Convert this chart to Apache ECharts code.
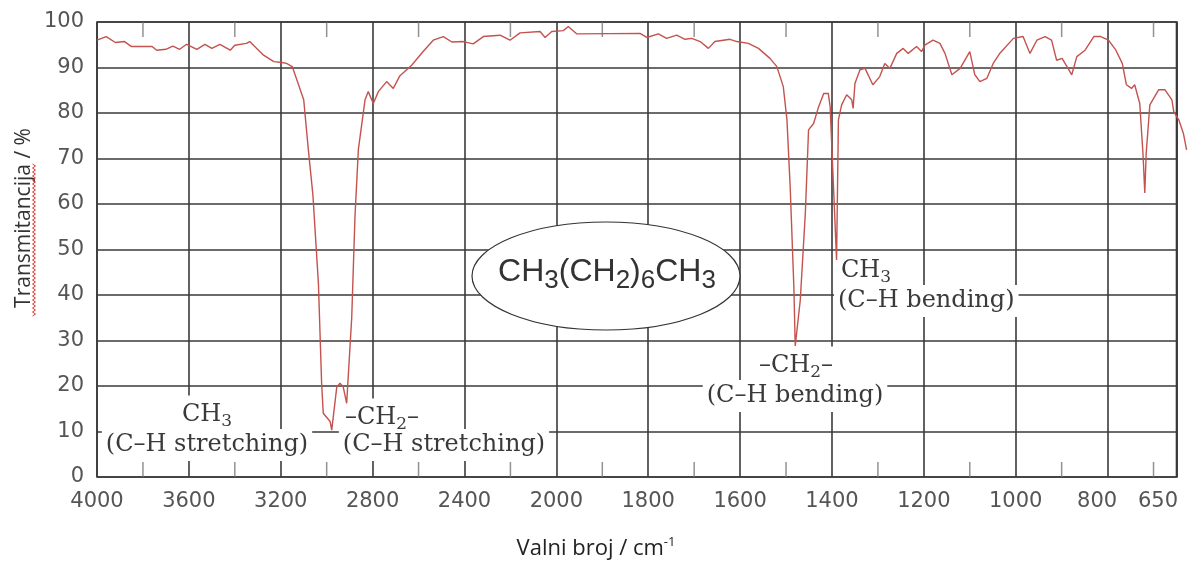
<!DOCTYPE html>
<html lang="hr">
<head>
<meta charset="utf-8">
<script src="https://cdn.jsdelivr.net/npm/echarts@6/dist/echarts.min.js"></script>
</head>
<body style="margin:0; background:#fff">
<div id="container" style="width:1204px; height:562px"></div>
<script type="text/javascript">
// wavenumber (cm-1) and transmittance (%)
var wavenumbers = [
  4000, 3960, 3920, 3880, 3850, 3760, 3740, 3700, 3670, 3640, 3610, 3565, 3530, 3500, 3465, 3420, 3400, 3350, 3335,
  3275, 3230, 3195, 3175, 3150, 3130, 3100, 3080, 3060, 3036, 3022, 3015, 2985, 2978, 2956, 2942, 2928, 2913,
  2891, 2877, 2862, 2833, 2819, 2797, 2775, 2739, 2710, 2681, 2630, 2580, 2536, 2492, 2455, 2405, 2362, 2318,
  2245, 2202, 2158, 2071, 2049, 2020, 1985, 1974, 1956, 1818, 1803, 1778, 1760, 1738, 1720, 1705, 1687, 1669,
  1655, 1622, 1607, 1582, 1560, 1535, 1520, 1506, 1498, 1491, 1483, 1480, 1469, 1458, 1451, 1440, 1429, 1418,
  1408, 1404, 1390, 1386, 1379, 1368, 1357, 1354, 1350, 1339, 1328, 1311, 1296, 1285, 1274, 1259, 1245, 1234,
  1216, 1205, 1198, 1180, 1165, 1154, 1139, 1121, 1100, 1089, 1078, 1063, 1049, 1034, 1005, 984, 969, 954, 936,
  922, 911, 899, 878, 867, 849, 830, 815, 798, 782, 768, 759, 748, 741, 730, 723, 719, 716, 708, 689, 675, 660,
  656, 645, 635, 628
];
var transmittance = [
  96.0, 96.8, 95.5, 95.7, 94.6, 94.6, 93.8, 94.0, 94.7, 94.0, 95.1, 94.0, 95.1, 94.2, 95.1, 93.8, 94.9, 95.3, 95.7,
  92.7, 91.3, 91.1, 90.9, 90.2, 87.3, 82.9, 72.0, 62.0, 42.6, 20.6, 14.0, 12.2, 10.3, 19.8, 20.6, 19.8, 16.2,
  35.0, 57.0, 72.0, 82.9, 84.7, 82.1, 84.7, 86.9, 85.4, 88.2, 90.5, 93.5, 96.0, 96.8, 95.6, 95.7, 95.2, 96.8,
  97.1, 96.0, 97.6, 97.9, 96.6, 97.9, 98.1, 99.0, 97.4, 97.5, 96.6, 97.4, 96.4, 97.1, 96.2, 96.4, 95.7, 94.2,
  95.7, 96.2, 95.7, 95.3, 94.2, 92.0, 90.2, 85.8, 78.5, 63.8, 41.8, 28.8, 38.9, 58.0, 76.3, 77.7, 81.4, 84.3,
  84.3, 81.4, 47.7, 78.5, 81.8, 84.0, 82.9, 81.0, 86.5, 89.5, 89.8, 86.2, 88.0, 90.9, 89.8, 93.1, 94.2, 93.1,
  94.6, 93.5, 94.9, 96.0, 95.3, 93.1, 88.4, 89.8, 93.5, 88.4, 86.9, 87.6, 90.9, 93.2, 96.4, 96.8, 93.1, 96.0, 96.8,
  96.0, 91.6, 92.0, 88.4, 92.4, 93.8, 96.8, 96.8, 96.0, 93.8, 90.9, 86.2, 85.4, 86.2, 82.1, 71.1, 62.4, 71.1, 81.8, 85.1, 85.1, 82.9,
  80.3, 78.5, 75.5, 71.9
];
var xTickLabels = [4000, 3600, 3200, 2800, 2400, 2000, 1800, 1600, 1400, 1200, 1000, 800, 650];
// short in-frame ticks halfway between the labelled lines
var minorTickWavenumbers = [3800, 3400, 3000, 2600, 2200, 1900, 1700, 1500, 1300, 1100, 900, 700];

// the chart paper changes scale at 2000 cm-1: 400 per division above, 200 below
function toAxis(w) {
  return w >= 2000 ? (4000 - w) / 400 : 5 + (2000 - w) / 200;
}
function fromAxis(u) {
  return u <= 5 ? 4000 - 400 * u : 2000 - 200 * (u - 5);
}

var W = 1204, gLeft = 97, gRight = 27.5, gRightWide = 10;
var xMax = toAxis(650);
// the trace runs a little past the 650 edge, so it sits on a wider twin grid with the same scale
var xMaxWide = xMax * (W - gLeft - gRightWide) / (W - gLeft - gRight);

var lineData = wavenumbers.map(function (w, i) {
  return [toAxis(w), transmittance[i]];
});
var topTicks = minorTickWavenumbers.map(function (w) { return [toAxis(w), 100]; });
var bottomTicks = minorTickWavenumbers.map(function (w) { return [toAxis(w), 0]; });

var gridColor = '#3a3a3a';
var labelFont = { fontFamily: 'DejaVu Sans', fontSize: 21, color: '#555' };
var serif = 'DejaVu Serif';
var annoColor = '#3a3a3a';

function anno(text, x, y, align) {
  return {
    type: 'text', x: x, y: y, z: 1,
    style: {
      text: text,
      align: align || 'center',
      verticalAlign: 'middle',
      fontFamily: serif, fontSize: 24, fill: annoColor,
      backgroundColor: '#fff',
      padding: [4, 4],
      rich: {
        s: { fontFamily: serif, fontSize: 17, fill: annoColor, padding: [14, 0, 0, 0] }
      }
    }
  };
}

function tickSeries(data, offset) {
  return {
    type: 'scatter', xAxisIndex: 0, yAxisIndex: 0, data: data,
    symbol: 'rect', symbolSize: [1.5, 15], symbolOffset: [0, offset],
    itemStyle: { color: '#777' }, silent: true, clip: false, z: 2
  };
}

var squiggle = [];
for (var y = 316, k = 0; y >= 163; y -= 2, k++) squiggle.push([k % 2 ? 35.5 : 32.5, y]);

var dom = document.getElementById('container');
var myChart = echarts.init(dom, null, { renderer: 'canvas' });

var option = {
  animation: false,
  grid: [
    { left: gLeft, right: gRight, top: 22, bottom: 85, show: true, borderColor: gridColor, borderWidth: 1.6 },
    { left: gLeft, right: gRightWide, top: 22, bottom: 85 }
  ],
  xAxis: [
    {
      gridIndex: 0, type: 'value', min: 0, max: xMax, interval: 1, position: 'bottom',
      axisLine: { show: false, onZero: false }, axisTick: { show: false },
      splitLine: { show: true, lineStyle: { color: gridColor, width: 1.6 } },
      axisLabel: {
        margin: 14, showMaxLabel: true, showMinLabel: true,
        fontFamily: labelFont.fontFamily, fontSize: labelFont.fontSize, color: labelFont.color,
        formatter: function (v) {
          var w = Math.round(fromAxis(v));
          if (xTickLabels.indexOf(w) < 0) return '';
          if (w === 800) return '{a|' + w + '}';
          if (w === 650) return '{b|' + w + '}';
          return '' + w;
        },
        rich: {
          a: { fontFamily: labelFont.fontFamily, fontSize: 21, color: labelFont.color, padding: [0, 21, 0, 0] },
          b: { fontFamily: labelFont.fontFamily, fontSize: 21, color: labelFont.color, padding: [0, 37, 0, 0] }
        }
      }
    },
    {
      gridIndex: 1, type: 'value', min: 0, max: xMaxWide, show: false
    }
  ],
  yAxis: [
    {
      gridIndex: 0, type: 'value', min: 0, max: 100, interval: 10,
      axisLine: { show: false, onZero: false }, axisTick: { show: false },
      splitLine: { show: true, lineStyle: { color: gridColor, width: 1.6 } },
      axisLabel: { margin: 13, fontFamily: labelFont.fontFamily, fontSize: labelFont.fontSize, color: labelFont.color }
    },
    { gridIndex: 1, type: 'value', min: 0, max: 100, show: false },
    {
      // right frame edge
      gridIndex: 0, type: 'value', min: 0, max: 100, position: 'right',
      axisLine: { show: true, onZero: false, lineStyle: { color: gridColor, width: 1.6 } },
      axisTick: { show: false }, axisLabel: { show: false }, splitLine: { show: false }
    }
  ],
  series: [
    tickSeries(topTicks, 7.5),
    tickSeries(bottomTicks, -7.5),
    {
      type: 'line', xAxisIndex: 1, yAxisIndex: 1, data: lineData,
      showSymbol: false, clip: false, z: 3,
      lineStyle: { color: '#c4524e', width: 1.4 }
    }
  ],
  graphic: {
    elements: [
      {
        type: 'ellipse', z: 1,
        shape: { cx: 606, cy: 276, rx: 134, ry: 54 },
        style: { fill: '#fff', stroke: '#333', lineWidth: 1.2 }
      },
      {
        type: 'text', x: 607, y: 272, z: 1,
        style: {
          text: 'CH{s|3}(CH{s|2}){s|6}CH{s|3}',
          align: 'center', verticalAlign: 'middle',
          fontFamily: 'Liberation Sans', fontSize: 32, fill: '#333',
          rich: { s: { fontFamily: 'Liberation Sans', fontSize: 26, fill: '#333', padding: [18, 0, 0, 0] } }
        }
      },
      anno('CH{s|3}', 207, 415),
      anno('(C\u2013H stretching)', 207, 445),
      anno('\u2013CH{s|2}\u2013', 341, 418, 'left'),
      anno('(C\u2013H stretching)', 444, 445),
      anno('\u2013CH{s|2}\u2013', 796, 366),
      anno('(C\u2013H bending)', 795, 396),
      anno('CH{s|3}', 837, 271, 'left'),
      anno('(C\u2013H bending)', 834, 301, 'left'),
      {
        type: 'text', x: 24, y: 218, rotation: Math.PI / 2, z: 1,
        style: {
          text: 'Transmitancija / %', align: 'center', verticalAlign: 'middle',
          fontFamily: 'Open Sans', fontSize: 21, fill: '#333'
        }
      },
      {
        type: 'polyline', z: 1,
        shape: { points: squiggle },
        style: { stroke: '#e03030', lineWidth: 1, fill: null }
      },
      {
        type: 'text', x: 596, y: 549, z: 1,
        style: {
          text: 'Valni broj / cm{p|-1}', align: 'center', verticalAlign: 'middle',
          fontFamily: 'Open Sans', fontSize: 22, fill: '#222',
          rich: { p: { fontFamily: 'Open Sans', fontSize: 13, fill: '#222', padding: [0, 0, 13, 0] } }
        }
      }
    ]
  }
};

if (option && typeof option === 'object') {
  myChart.setOption(option);
}
window.addEventListener('resize', myChart.resize);
</script>
</body>
</html>
